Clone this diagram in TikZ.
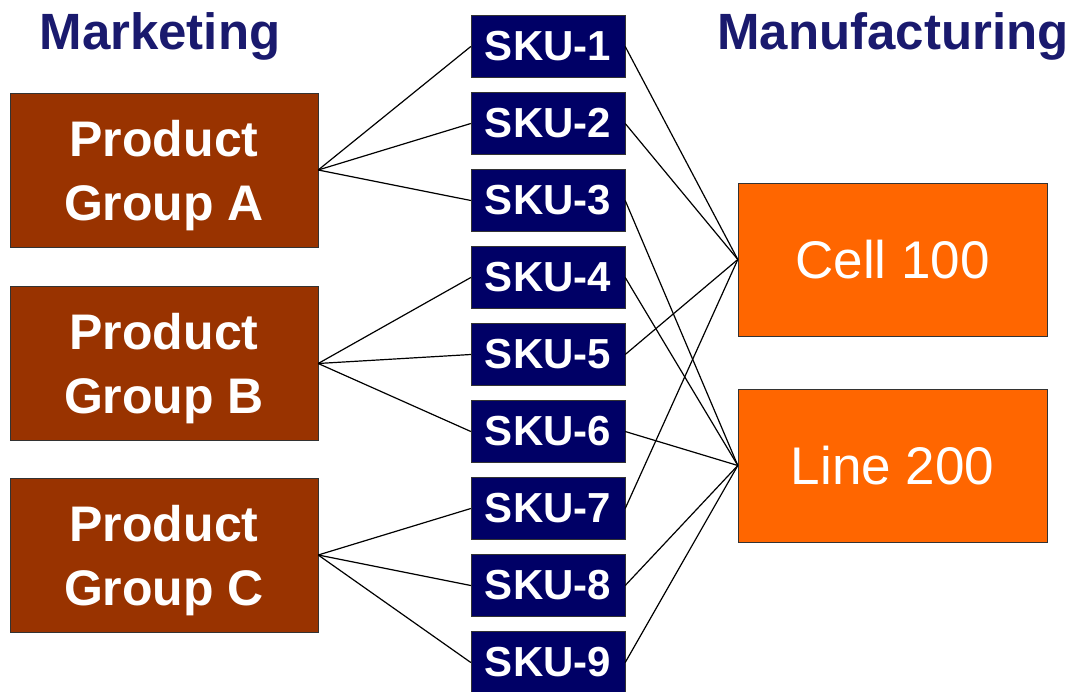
\documentclass[tikz,border=0pt]{standalone}
\usepackage{fontspec}
\setmainfont{Liberation Sans}
\definecolor{brownbox}{HTML}{993300}
\definecolor{navybox}{HTML}{000066}
\definecolor{orangebox}{HTML}{FF6600}
\definecolor{titlenavy}{HTML}{1A1A6E}
\begin{document}
\begin{tikzpicture}[x=1pt,y=-1pt,
  grp/.style={draw=black!80,fill=brownbox,text=white,minimum width=308pt,minimum height=154pt,inner sep=0pt,align=center,text depth=0pt,font=\fontsize{50}{64}\selectfont\bfseries},
  sku/.style={draw=black!80,fill=navybox,text=white,minimum width=154pt,minimum height=62pt,inner sep=0pt,font=\fontsize{42}{42}\selectfont\bfseries},
  mfg/.style={draw=black!80,fill=orangebox,text=white,minimum width=309pt,minimum height=153pt,inner sep=0pt,font=\fontsize{53}{53}\selectfont},
  ttl/.style={text=titlenavy,inner sep=0pt,anchor=base,font=\fontsize{51}{51}\selectfont\bfseries},
  link/.style={draw=black,line width=1.2pt}]
\useasboundingbox (0,0) rectangle (1073,692);
\node[ttl] (tmk) at (160,50) {Marketing};
\node[ttl] (tmf) at (893,50) {Manufacturing};
\node[grp] (ga) at (164,170) {Product\\Group A};
\node[grp] (gb) at (164,363.5) {Product\\Group B};
\node[grp] (gc) at (164,555) {Product\\Group C};
\foreach \i in {1,...,9} {
  \node[sku] (s\i) at (548,{46.5+77*(\i-1)}) {SKU-\i};
}
\node[mfg] (cell) at (892.5,259.5) {Cell 100};
\node[mfg] (line) at (892.5,465.5) {Line 200};
\foreach \i in {1,2,3} {\draw[link] (ga.east) -- (s\i.west);}
\foreach \i in {4,5,6} {\draw[link] (gb.east) -- (s\i.west);}
\foreach \i in {7,8,9} {\draw[link] (gc.east) -- (s\i.west);}
\foreach \i in {1,2,5,7} {\draw[link] (s\i.east) -- (cell.west);}
\foreach \i in {3,4,6,8,9} {\draw[link] (s\i.east) -- (line.west);}
\end{tikzpicture}
\end{document}
